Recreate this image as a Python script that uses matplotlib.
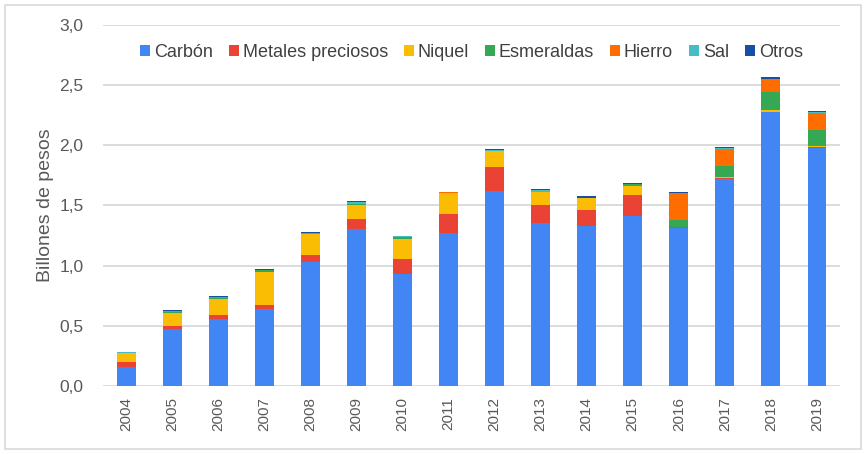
import matplotlib
matplotlib.use("Agg")
import matplotlib.pyplot as plt
import numpy as np
from matplotlib.patches import Rectangle

plt.rcParams['font.family'] = ['Liberation Sans', 'DejaVu Sans']

years = ['2004', '2005', '2006', '2007', '2008', '2009', '2010', '2011',
         '2012', '2013', '2014', '2015', '2016', '2017', '2018', '2019']
carbon = [0.16, 0.47, 0.56, 0.64, 1.03, 1.30, 0.93, 1.27, 1.62, 1.35, 1.325, 1.41, 1.31, 1.72, 2.275, 1.975]
metales = [0.04, 0.03, 0.03, 0.03, 0.06, 0.09, 0.125, 0.155, 0.20, 0.155, 0.135, 0.175, 0.01, 0.005, 0.005, 0.01]
niquel = [0.075, 0.11, 0.13, 0.28, 0.175, 0.11, 0.17, 0.175, 0.13, 0.11, 0.10, 0.08, 0.0, 0.01, 0.01, 0.005]
esmeraldas = [0.0, 0.005, 0.01, 0.01, 0.0, 0.01, 0.01, 0.0, 0.005, 0.0, 0.0, 0.01, 0.06, 0.095, 0.155, 0.14]
hierro = [0.0, 0.005, 0.005, 0.0, 0.005, 0.0, 0.0, 0.01, 0.0, 0.0, 0.0, 0.0, 0.22, 0.14, 0.105, 0.14]
sal = [0.01, 0.005, 0.005, 0.005, 0.0, 0.015, 0.01, 0.0, 0.005, 0.01, 0.005, 0.005, 0.005, 0.005, 0.005, 0.005]
otros = [0.0, 0.005, 0.01, 0.005, 0.01, 0.01, 0.005, 0.005, 0.005, 0.01, 0.01, 0.01, 0.01, 0.01, 0.01, 0.01]

series = [
    ('Carbón', carbon, '#4285F4'),
    ('Metales preciosos', metales, '#EA4335'),
    ('Niquel', niquel, '#FBBC04'),
    ('Esmeraldas', esmeraldas, '#34A853'),
    ('Hierro', hierro, '#FF6D01'),
    ('Sal', sal, '#46BDC6'),
    ('Otros', otros, '#174EA6'),
]

fig = plt.figure(figsize=(8.66, 4.54), dpi=100)
ax = fig.add_axes([0.119, 0.150, 0.851, 0.795])

x = np.arange(len(years))
bottom = np.zeros(len(years))
for name, vals, col in series:
    ax.bar(x, vals, 0.41, bottom=bottom, color=col, label=name, zorder=3)
    bottom += np.array(vals)

ax.set_xlim(-0.5, 15.5)
ax.set_ylim(0, 3.0)
yt = np.arange(0, 3.01, 0.5)
ax.set_yticks(yt)
ax.set_yticklabels([('%.1f' % v).replace('.', ',') for v in yt])
ax.set_xticks(x)
ax.set_xticklabels(years, rotation=90)
ax.tick_params(length=0, labelsize=11, labelcolor='#595959')
ax.tick_params(axis='y', pad=14, labelsize=12.5)
ax.tick_params(axis='x', pad=8)
ax.grid(axis='y', color='#d9d9d9', lw=1.3, zorder=0)
for s in ax.spines.values():
    s.set_visible(False)
ax.set_ylabel('Billones de pesos', fontsize=14, color='#595959', labelpad=4)

ax.legend(loc='center', bbox_to_anchor=(0.5, 0.925), ncol=7, frameon=False,
          fontsize=13, handlelength=0.55, handleheight=0.55, handletextpad=0.2,
          columnspacing=0.9, labelcolor='#404040')

fig.patches.append(Rectangle((0.006, 0.012), 0.988, 0.976, transform=fig.transFigure,
                             fill=False, edgecolor='#d9d9d9', lw=1.2))

fig.savefig('out.png', dpi=100)
